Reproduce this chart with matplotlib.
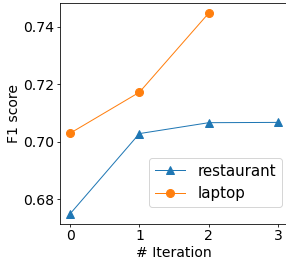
import matplotlib
matplotlib.use("Agg")
import matplotlib.pyplot as plt

iterations = [0, 1, 2, 3]
restaurant = [0.6748, 0.7028, 0.7066, 0.7067]
laptop_iter = [0, 1, 2]
laptop = [0.7029, 0.7172, 0.7448]

plt.rcParams["font.size"] = 14
plt.rcParams["xtick.major.pad"] = 2
plt.rcParams["ytick.major.pad"] = 2
plt.rcParams["xtick.major.size"] = 3
plt.rcParams["ytick.major.size"] = 3

W, H = 286, 259
fig = plt.figure(figsize=(W / 72, H / 72), dpi=72)
# axes runs slightly past the right edge, like the cropped original
ax = fig.add_axes([59.6 / W, (H - 224) / H, (288.6 - 59.6) / W, (224 - 3) / H])

ax.plot(iterations, restaurant, marker="^", linewidth=1, markersize=8, label="restaurant")
ax.plot(laptop_iter, laptop, marker="o", linewidth=1, markersize=8, label="laptop")

ax.set_xticks(iterations)
ax.set_yticks([0.68, 0.70, 0.72, 0.74])
ax.set_xlabel("# Iteration", labelpad=3)
ax.set_ylabel("F1 score", labelpad=2)
ax.legend(loc="lower right", fontsize=15, borderaxespad=0,
          bbox_to_anchor=(282 / W, (H - 207) / H), bbox_transform=fig.transFigure)

fig.savefig("out.png", dpi=72)
